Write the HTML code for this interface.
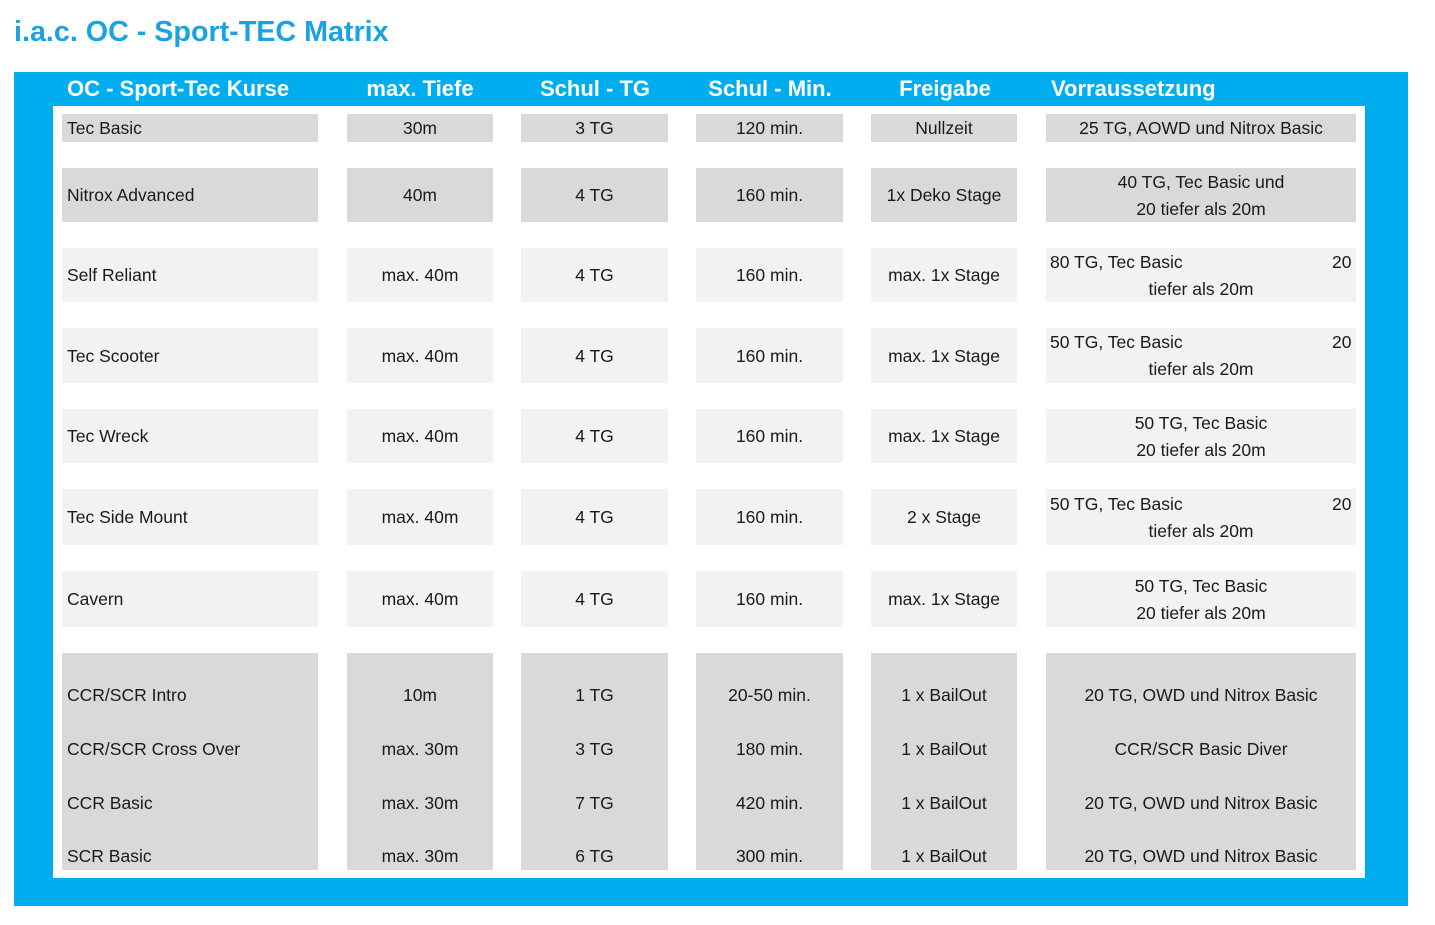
<!DOCTYPE html>
<html><head><meta charset="utf-8"><style>
body{margin:0;width:1435px;height:925px;background:#fff;position:relative;overflow:hidden;font-family:"Liberation Sans",sans-serif}
div{position:absolute;box-sizing:border-box}
.g{background:#d9d9d9}.l{background:#f2f2f2}
.t{height:22px;line-height:22px;font-size:17.5px;color:#1a1a1a;white-space:nowrap}
.c{text-align:center}
.h{color:#fff;font-weight:bold;font-size:22px;height:30px;line-height:30px;top:74px;white-space:nowrap}
</style></head><body>
<div style="left:14px;top:13px;font-size:28.7px;font-weight:bold;color:#1aa3e0;line-height:38px">i.a.c. OC - Sport-TEC Matrix</div>
<div style="left:14px;top:72px;width:1394px;height:834px;background:#00aeef"></div>
<div style="left:53px;top:106px;width:1312px;height:772px;background:#fff"></div>
<div class="h" style="left:67px">OC - Sport-Tec Kurse</div>
<div class="h c" style="left:340px;width:160px">max. Tiefe</div>
<div class="h c" style="left:515px;width:160px">Schul - TG</div>
<div class="h c" style="left:690px;width:160px">Schul - Min.</div>
<div class="h c" style="left:865px;width:160px">Freigabe</div>
<div class="h" style="left:1051px">Vorraussetzung</div>

<div class="g" style="left:62px;top:114px;width:256px;height:28px"></div><div class="g" style="left:347px;top:114px;width:146px;height:28px"></div><div class="g" style="left:521px;top:114px;width:147px;height:28px"></div><div class="g" style="left:696px;top:114px;width:147px;height:28px"></div><div class="g" style="left:871px;top:114px;width:146px;height:28px"></div><div class="g" style="left:1046px;top:114px;width:310px;height:28px"></div>
<div class="g" style="left:62px;top:168px;width:256px;height:54px"></div><div class="g" style="left:347px;top:168px;width:146px;height:54px"></div><div class="g" style="left:521px;top:168px;width:147px;height:54px"></div><div class="g" style="left:696px;top:168px;width:147px;height:54px"></div><div class="g" style="left:871px;top:168px;width:146px;height:54px"></div><div class="g" style="left:1046px;top:168px;width:310px;height:54px"></div>
<div class="l" style="left:62px;top:248px;width:256px;height:54px"></div><div class="l" style="left:347px;top:248px;width:146px;height:54px"></div><div class="l" style="left:521px;top:248px;width:147px;height:54px"></div><div class="l" style="left:696px;top:248px;width:147px;height:54px"></div><div class="l" style="left:871px;top:248px;width:146px;height:54px"></div><div class="l" style="left:1046px;top:248px;width:310px;height:54px"></div>
<div class="l" style="left:62px;top:328px;width:256px;height:55px"></div><div class="l" style="left:347px;top:328px;width:146px;height:55px"></div><div class="l" style="left:521px;top:328px;width:147px;height:55px"></div><div class="l" style="left:696px;top:328px;width:147px;height:55px"></div><div class="l" style="left:871px;top:328px;width:146px;height:55px"></div><div class="l" style="left:1046px;top:328px;width:310px;height:55px"></div>
<div class="l" style="left:62px;top:409px;width:256px;height:54px"></div><div class="l" style="left:347px;top:409px;width:146px;height:54px"></div><div class="l" style="left:521px;top:409px;width:147px;height:54px"></div><div class="l" style="left:696px;top:409px;width:147px;height:54px"></div><div class="l" style="left:871px;top:409px;width:146px;height:54px"></div><div class="l" style="left:1046px;top:409px;width:310px;height:54px"></div>
<div class="l" style="left:62px;top:489px;width:256px;height:56px"></div><div class="l" style="left:347px;top:489px;width:146px;height:56px"></div><div class="l" style="left:521px;top:489px;width:147px;height:56px"></div><div class="l" style="left:696px;top:489px;width:147px;height:56px"></div><div class="l" style="left:871px;top:489px;width:146px;height:56px"></div><div class="l" style="left:1046px;top:489px;width:310px;height:56px"></div>
<div class="l" style="left:62px;top:571px;width:256px;height:56px"></div><div class="l" style="left:347px;top:571px;width:146px;height:56px"></div><div class="l" style="left:521px;top:571px;width:147px;height:56px"></div><div class="l" style="left:696px;top:571px;width:147px;height:56px"></div><div class="l" style="left:871px;top:571px;width:146px;height:56px"></div><div class="l" style="left:1046px;top:571px;width:310px;height:56px"></div>
<div class="g" style="left:62px;top:653px;width:256px;height:217px"></div><div class="g" style="left:347px;top:653px;width:146px;height:217px"></div><div class="g" style="left:521px;top:653px;width:147px;height:217px"></div><div class="g" style="left:696px;top:653px;width:147px;height:217px"></div><div class="g" style="left:871px;top:653px;width:146px;height:217px"></div><div class="g" style="left:1046px;top:653px;width:310px;height:217px"></div>

<div class="t" style="left:67px;top:117px">Tec Basic</div>
<div class="t c" style="left:347px;width:146px;top:117px">30m</div>
<div class="t c" style="left:521px;width:147px;top:117px">3 TG</div>
<div class="t c" style="left:696px;width:147px;top:117px">120 min.</div>
<div class="t c" style="left:871px;width:146px;top:117px">Nullzeit</div>
<div class="t c" style="left:1046px;width:310px;top:117px">25 TG, AOWD und Nitrox Basic</div>

<div class="t" style="left:67px;top:184px">Nitrox Advanced</div>
<div class="t c" style="left:347px;width:146px;top:184px">40m</div>
<div class="t c" style="left:521px;width:147px;top:184px">4 TG</div>
<div class="t c" style="left:696px;width:147px;top:184px">160 min.</div>
<div class="t c" style="left:871px;width:146px;top:184px">1x Deko Stage</div>
<div class="t c" style="left:1046px;width:310px;top:171px">40 TG, Tec Basic und</div>
<div class="t c" style="left:1046px;width:310px;top:198px">20 tiefer als 20m</div>

<div class="t" style="left:67px;top:264px">Self Reliant</div>
<div class="t c" style="left:347px;width:146px;top:264px">max. 40m</div>
<div class="t c" style="left:521px;width:147px;top:264px">4 TG</div>
<div class="t c" style="left:696px;width:147px;top:264px">160 min.</div>
<div class="t c" style="left:871px;width:146px;top:264px">max. 1x Stage</div>
<div class="t" style="left:1050px;top:251px">80 TG, Tec Basic</div>
<div class="t" style="left:1332px;top:251px">20</div>
<div class="t c" style="left:1046px;width:310px;top:278px">tiefer als 20m</div>

<div class="t" style="left:67px;top:345px">Tec Scooter</div>
<div class="t c" style="left:347px;width:146px;top:345px">max. 40m</div>
<div class="t c" style="left:521px;width:147px;top:345px">4 TG</div>
<div class="t c" style="left:696px;width:147px;top:345px">160 min.</div>
<div class="t c" style="left:871px;width:146px;top:345px">max. 1x Stage</div>
<div class="t" style="left:1050px;top:331px">50 TG, Tec Basic</div>
<div class="t" style="left:1332px;top:331px">20</div>
<div class="t c" style="left:1046px;width:310px;top:358px">tiefer als 20m</div>

<div class="t" style="left:67px;top:425px">Tec Wreck</div>
<div class="t c" style="left:347px;width:146px;top:425px">max. 40m</div>
<div class="t c" style="left:521px;width:147px;top:425px">4 TG</div>
<div class="t c" style="left:696px;width:147px;top:425px">160 min.</div>
<div class="t c" style="left:871px;width:146px;top:425px">max. 1x Stage</div>
<div class="t c" style="left:1046px;width:310px;top:412px">50 TG, Tec Basic</div>
<div class="t c" style="left:1046px;width:310px;top:439px">20 tiefer als 20m</div>

<div class="t" style="left:67px;top:506px">Tec Side Mount</div>
<div class="t c" style="left:347px;width:146px;top:506px">max. 40m</div>
<div class="t c" style="left:521px;width:147px;top:506px">4 TG</div>
<div class="t c" style="left:696px;width:147px;top:506px">160 min.</div>
<div class="t c" style="left:871px;width:146px;top:506px">2 x Stage</div>
<div class="t" style="left:1050px;top:493px">50 TG, Tec Basic</div>
<div class="t" style="left:1332px;top:493px">20</div>
<div class="t c" style="left:1046px;width:310px;top:520px">tiefer als 20m</div>

<div class="t" style="left:67px;top:588px">Cavern</div>
<div class="t c" style="left:347px;width:146px;top:588px">max. 40m</div>
<div class="t c" style="left:521px;width:147px;top:588px">4 TG</div>
<div class="t c" style="left:696px;width:147px;top:588px">160 min.</div>
<div class="t c" style="left:871px;width:146px;top:588px">max. 1x Stage</div>
<div class="t c" style="left:1046px;width:310px;top:575px">50 TG, Tec Basic</div>
<div class="t c" style="left:1046px;width:310px;top:602px">20 tiefer als 20m</div>

<div class="t" style="left:67px;top:684px">CCR/SCR Intro</div>
<div class="t c" style="left:347px;width:146px;top:684px">10m</div>
<div class="t c" style="left:521px;width:147px;top:684px">1 TG</div>
<div class="t c" style="left:696px;width:147px;top:684px">20-50 min.</div>
<div class="t c" style="left:871px;width:146px;top:684px">1 x BailOut</div>
<div class="t c" style="left:1046px;width:310px;top:684px">20 TG, OWD und Nitrox Basic</div>

<div class="t" style="left:67px;top:738px">CCR/SCR Cross Over</div>
<div class="t c" style="left:347px;width:146px;top:738px">max. 30m</div>
<div class="t c" style="left:521px;width:147px;top:738px">3 TG</div>
<div class="t c" style="left:696px;width:147px;top:738px">180 min.</div>
<div class="t c" style="left:871px;width:146px;top:738px">1 x BailOut</div>
<div class="t c" style="left:1046px;width:310px;top:738px">CCR/SCR Basic Diver</div>

<div class="t" style="left:67px;top:792px">CCR Basic</div>
<div class="t c" style="left:347px;width:146px;top:792px">max. 30m</div>
<div class="t c" style="left:521px;width:147px;top:792px">7 TG</div>
<div class="t c" style="left:696px;width:147px;top:792px">420 min.</div>
<div class="t c" style="left:871px;width:146px;top:792px">1 x BailOut</div>
<div class="t c" style="left:1046px;width:310px;top:792px">20 TG, OWD und Nitrox Basic</div>

<div class="t" style="left:67px;top:845px">SCR Basic</div>
<div class="t c" style="left:347px;width:146px;top:845px">max. 30m</div>
<div class="t c" style="left:521px;width:147px;top:845px">6 TG</div>
<div class="t c" style="left:696px;width:147px;top:845px">300 min.</div>
<div class="t c" style="left:871px;width:146px;top:845px">1 x BailOut</div>
<div class="t c" style="left:1046px;width:310px;top:845px">20 TG, OWD und Nitrox Basic</div>
</body></html>
